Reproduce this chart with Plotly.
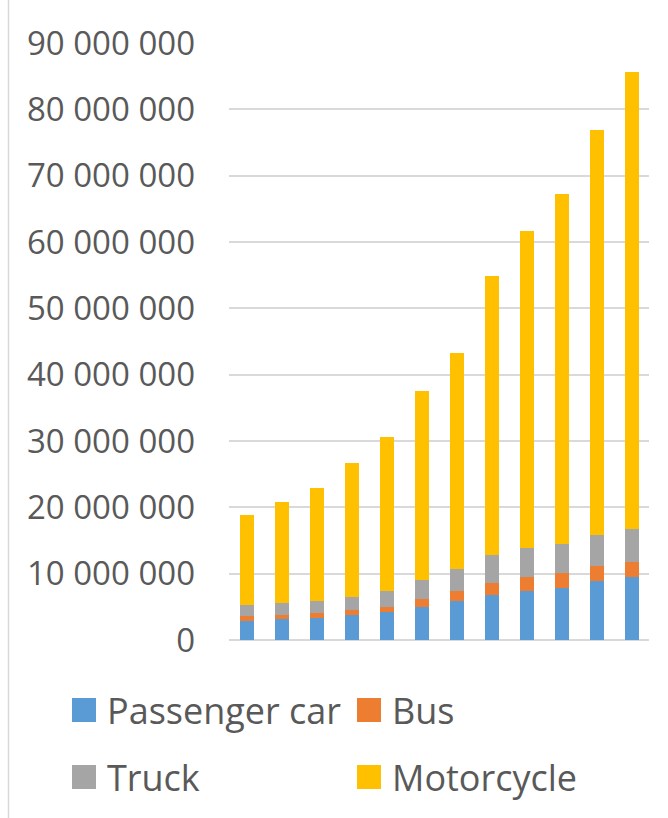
import plotly.graph_objects as go

# Twelve periods, vehicle counts by category
periods = [str(i) for i in range(1, 13)]

passenger_car = [2_900_000, 3_120_000, 3_370_000, 3_720_000, 4_170_000, 5_030_000,
                 5_930_000, 6_790_000, 7_440_000, 7_890_000, 8_850_000, 9_500_000]
bus = [770_000, 700_000, 650_000, 850_000, 860_000, 1_110_000,
       1_410_000, 1_760_000, 2_060_000, 2_170_000, 2_260_000, 2_310_000]
truck = [1_660_000, 1_760_000, 1_910_000, 1_960_000, 2_410_000, 2_860_000,
         3_360_000, 4_220_000, 4_420_000, 4_460_000, 4_680_000, 4_890_000]
motorcycle = [13_570_000, 15_280_000, 16_970_000, 20_170_000, 23_160_000, 28_600_000,
              32_600_000, 42_030_000, 47_780_000, 52_780_000, 61_110_000, 68_900_000]

series_names = ["Passenger car", "Bus", "Truck", "Motorcycle"]
series_values = [passenger_car, bus, truck, motorcycle]
series_colors = ["#5B9BD5", "#ED7D31", "#A5A5A5", "#FFC000"]

y_ticks = list(range(0, 90_000_001, 10_000_000))

W, H = 668, 818
L, R, T, B = 229, 19, 43, 178
PW, PH = W - L - R, H - T - B

fig = go.Figure()
for name, vals, color in zip(series_names, series_values, series_colors):
    fig.add_trace(go.Bar(x=periods, y=vals, name=name,
                         marker=dict(color=color, line=dict(width=0)),
                         showlegend=False))


def px_x(p):
    return (p - L) / PW


def px_y(p):
    return (H - B - p) / PH


# Legend drawn as coloured squares with labels, two columns by two rows
legend_cols = [72, 357]
legend_rows = [710, 777]
shapes = []
annotations = []
for i, (name, color) in enumerate(zip(series_names, series_colors)):
    cx = legend_cols[i % 2]
    cy = legend_rows[i // 2]
    shapes.append(dict(type="rect", xref="paper", yref="paper",
                       x0=px_x(cx), x1=px_x(cx + 24),
                       y0=px_y(cy + 12), y1=px_y(cy - 12),
                       fillcolor=color, line=dict(width=0)))
    annotations.append(dict(text=name, xref="paper", yref="paper",
                            x=px_x(cx + 33), y=px_y(cy),
                            xanchor="left", yanchor="middle", showarrow=False,
                            font=dict(family="Open Sans", size=36, color="#595959")))

# Thin frame line along the left edge of the chart area
shapes.append(dict(type="line", xref="paper", yref="paper",
                   x0=px_x(8.5), x1=px_x(8.5), y0=px_y(H), y1=px_y(0),
                   line=dict(color="#D9D9D9", width=1.5)))

fig.update_layout(
    width=W, height=H,
    margin=dict(l=L, r=R, t=T, b=B),
    barmode="stack",
    bargap=0.6,
    separators=". ",
    plot_bgcolor="white",
    paper_bgcolor="white",
    font=dict(family="Open Sans", color="#595959"),
    shapes=shapes,
    annotations=annotations,
    xaxis=dict(showticklabels=False, showgrid=False, zeroline=False,
               showline=False, ticks=""),
    yaxis=dict(range=[0, 90_000_000], tickvals=y_ticks, tickformat=",d",
               showgrid=True, gridcolor="#D9D9D9", gridwidth=1.6,
               zeroline=True, zerolinecolor="#D9D9D9", zerolinewidth=1.6,
               showline=False, ticks="", ticklabelstandoff=33,
               tickfont=dict(family="Open Sans", size=33, color="#595959")),
)

fig.write_html("out.html")
